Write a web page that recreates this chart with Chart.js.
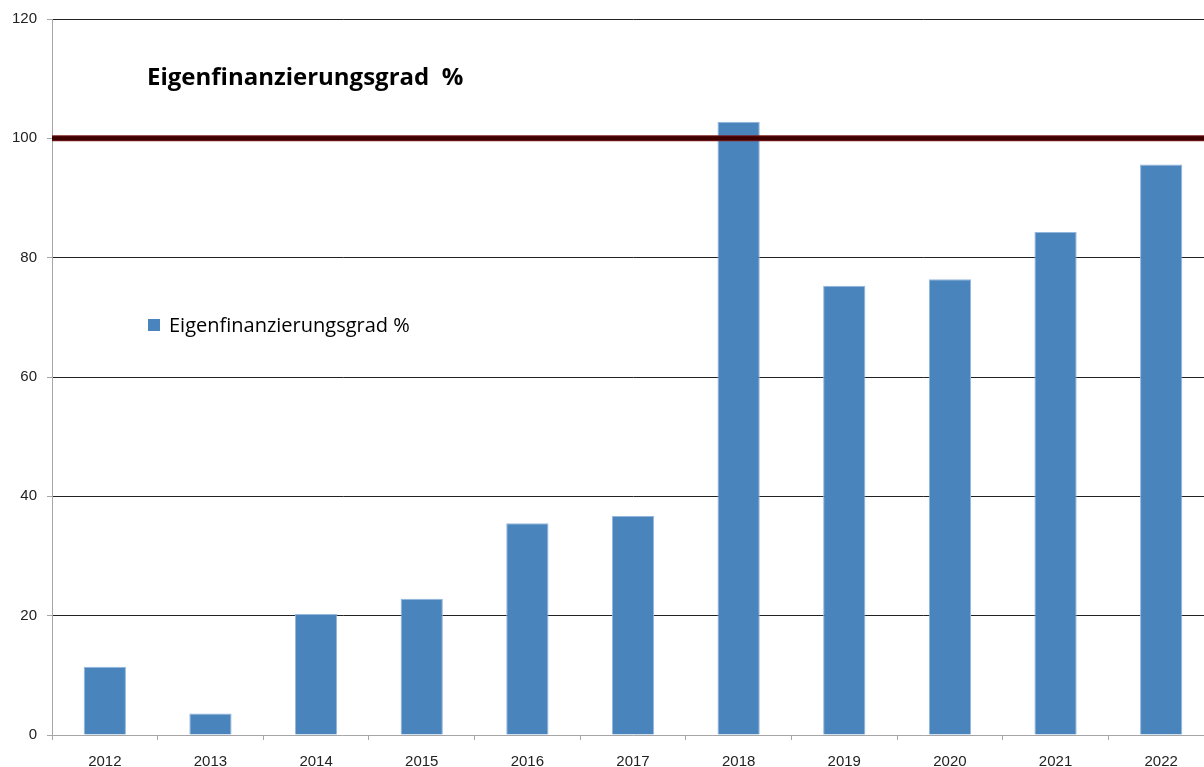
<!DOCTYPE html>
<html>
<head>
<meta charset="utf-8">
<script src="https://cdn.jsdelivr.net/npm/chart.js@4"></script>
<style>
  html, body { margin: 0; padding: 0; background: #fff; overflow: hidden; }
  #wrap { position: relative; width: 1214px; height: 767px; }
</style>
</head>
<body>
<div id="wrap"><canvas id="chart"></canvas></div>
<script>
// data
const years = ['2012', '2013', '2014', '2015', '2016', '2017', '2018', '2019', '2020', '2021', '2022'];
const eigenfinanzierung = [11.45, 3.6, 20.3, 22.85, 35.5, 36.7, 102.8, 75.3, 76.4, 84.3, 95.6];
const yTicks = [0, 20, 40, 60, 80, 100, 120];
const targetLine = 100;
const chartTitle = 'Eigenfinanzierungsgrad  %';
const seriesLabel = 'Eigenfinanzierungsgrad %';

// dark line at 100 % and title / legend inside the plot
const overlayPlugin = {
    id: 'overlay',
    afterDatasetsDraw(chart) {
        const ctx = chart.ctx;
        const area = chart.chartArea;
        const y = chart.scales.y.getPixelForValue(targetLine);
        ctx.save();
        ctx.strokeStyle = '#7a1c1c';
        ctx.lineWidth = 6;
        ctx.beginPath();
        ctx.moveTo(area.left, y);
        ctx.lineTo(area.right, y);
        ctx.stroke();
        ctx.strokeStyle = '#3f0000';
        ctx.lineWidth = 4;
        ctx.stroke();

        ctx.fillStyle = '#000';
        ctx.textBaseline = 'alphabetic';
        ctx.font = 'bold 24px "Open Sans", sans-serif';
        ctx.fillText(chartTitle, 147, 85);

        const ds = chart.data.datasets[0];
        ctx.fillStyle = ds.backgroundColor;
        ctx.fillRect(148, 319, 12, 12);
        ctx.fillStyle = '#000';
        ctx.font = '20px "Open Sans", sans-serif';
        ctx.textBaseline = 'middle';
        ctx.fillText(ds.label, 169, 326);
        ctx.restore();
    }
};

new Chart(document.getElementById('chart'), {
    type: 'bar',
    data: {
        labels: years,
        datasets: [{
            label: seriesLabel,
            data: eigenfinanzierung,
            backgroundColor: '#4a84bc',
            borderColor: '#93b7dd',
            borderWidth: 1,
            barPercentage: 0.4,
            categoryPercentage: 1.0
        }]
    },
    options: {
        responsive: true,
        maintainAspectRatio: false,
        animation: false,
        layout: { padding: { top: 16, right: 0, left: 0, bottom: 0 } },
        plugins: {
            legend: { display: false },
            title: { display: false },
            tooltip: { enabled: false }
        },
        scales: {
            x: {
                offset: true,
                grid: {
                    offset: true,
                    drawOnChartArea: false,
                    drawTicks: true,
                    tickLength: 5,
                    tickColor: '#a6a6a6'
                },
                border: { color: '#a6a6a6', width: 1 },
                ticks: {
                    color: '#222',
                    font: { family: 'Liberation Sans', size: 15 },
                    padding: 13
                },
                afterFit(scale) { scale.height = 32; }
            },
            y: {
                min: 0,
                max: 120,
                afterBuildTicks(scale) {
                    scale.ticks = yTicks.map(v => ({ value: v }));
                },
                grid: {
                    color: ctx => ctx.tick && ctx.tick.value === 0 ? 'rgba(0,0,0,0)' : '#222',
                    lineWidth: 1,
                    drawTicks: true,
                    tickLength: 5,
                    tickColor: '#a6a6a6'
                },
                border: { color: '#a6a6a6', width: 1 },
                ticks: {
                    color: '#222',
                    font: { family: 'Liberation Sans', size: 15 },
                    padding: 10
                },
                afterFit(scale) { scale.width = 52; }
            }
        }
    },
    plugins: [overlayPlugin]
});
</script>
</body>
</html>
